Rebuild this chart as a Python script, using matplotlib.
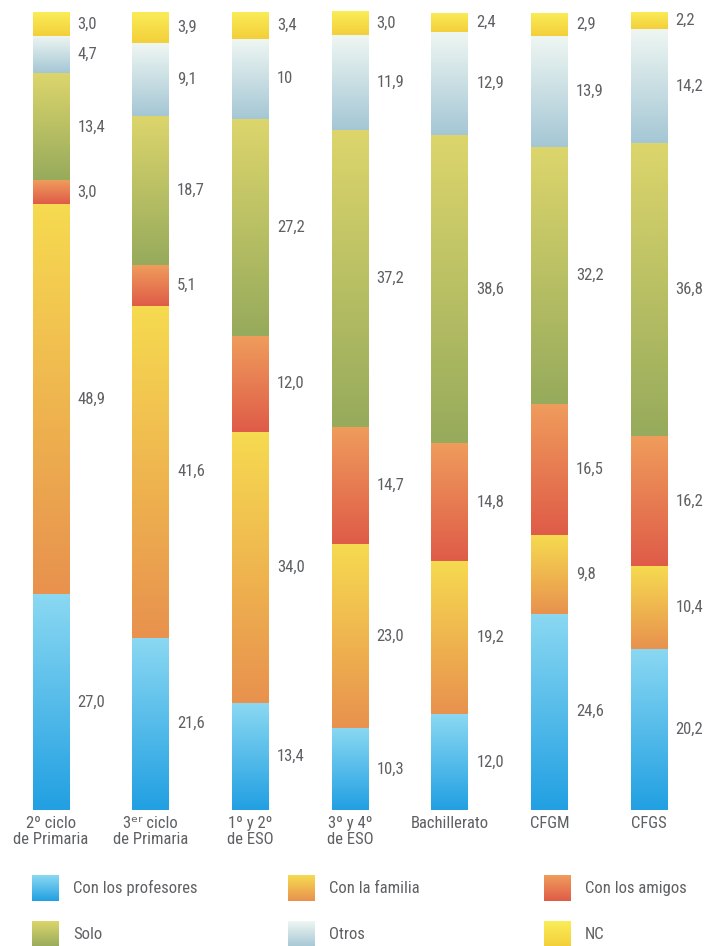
import numpy as np
import matplotlib.pyplot as plt
from matplotlib import font_manager
from matplotlib.colors import LinearSegmentedColormap
from matplotlib.patches import Rectangle

# niveles educativos (eje x)
levels = ['2º ciclo\nde Primaria', '3ᵉʳ ciclo\nde Primaria', '1º y 2º\nde ESO',
          '3º y 4º\nde ESO', 'Bachillerato', 'CFGM', 'CFGS']

# porcentajes por serie, de abajo arriba
profesores = [27.0, 21.6, 13.4, 10.3, 12.0, 24.6, 20.2]
familia = [48.9, 41.6, 34.0, 23.0, 19.2, 9.8, 10.4]
amigos = [3.0, 5.1, 12.0, 14.7, 14.8, 16.5, 16.2]
solo = [13.4, 18.7, 27.2, 37.2, 38.6, 32.2, 36.8]
otros = [4.7, 9.1, 10, 11.9, 12.9, 13.9, 14.2]
nc = [3.0, 3.9, 3.4, 3.0, 2.4, 2.9, 2.2]

series = ['Con los profesores', 'Con la familia', 'Con los amigos', 'Solo', 'Otros', 'NC']
values = [profesores, familia, amigos, solo, otros, nc]
# colores del degradado (arriba, abajo)
gradients = [('#8ad8f2', '#22a0e2'),
             ('#f6da50', '#e8924e'),
             ('#ef9c5c', '#df5c48'),
             ('#dcd56c', '#97ab5c'),
             ('#eef6f2', '#a5c7d5'),
             ('#faed58', '#f3cf3a')]

TEXT = '#5f6063'


def pick_font():
    names = {f.name for f in font_manager.fontManager.ttflist}
    for n in ['Liberation Sans Narrow', 'DejaVu Sans Condensed', 'Roboto Condensed']:
        if n in names:
            return n
    return 'DejaVu Sans'


FONT = pick_font()
plt.rcParams['font.family'] = [FONT, 'DejaVu Sans']


def fmt(v):
    if isinstance(v, int):
        return str(v)
    return f'{v:.1f}'.replace('.', ',')


def grad_fill(ax, patch, top, bottom, extent):
    cmap = LinearSegmentedColormap.from_list('g', [bottom, top])
    img = ax.imshow(np.linspace(0, 1, 64).reshape(-1, 1), cmap=cmap, origin='lower',
                    extent=extent, aspect='auto', interpolation='bicubic', zorder=2)
    img.set_clip_path(patch)


fig = plt.figure(figsize=(7.05, 9.46), dpi=100)
ax = fig.add_axes([0.0017, 0.1438, 0.990, 0.8436])

x = np.arange(len(levels))
width = 0.37
bottoms = np.zeros(len(levels))
for vals, (top, bot) in zip(values, gradients):
    vals_arr = np.array(vals, dtype=float)
    bars = ax.bar(x, vals_arr, width, bottom=bottoms, facecolor='none', edgecolor='none')
    for i, b in enumerate(bars):
        grad_fill(ax, b, top, bot, [x[i] - width / 2, x[i] + width / 2,
                                    bottoms[i], bottoms[i] + vals_arr[i]])
        ax.text(x[i] + width / 2 + 0.08, bottoms[i] + vals_arr[i] / 2, fmt(vals[i]),
                ha='left', va='center', fontsize=12, color=TEXT)
    bottoms += vals_arr

ax.set_xlim(-0.5, len(levels) - 0.5)
ax.set_ylim(0, 100)
ax.set_xticks(x)
ax.set_xticklabels(levels, fontsize=12, color=TEXT, linespacing=1.15)
ax.tick_params(axis='x', length=0, pad=4)
ax.set_yticks([])
for s in ax.spines.values():
    s.set_visible(False)

# leyenda en píxeles
lax = fig.add_axes([0, 0, 1, 1], zorder=-1)
lax.set_xlim(0, 705)
lax.set_ylim(946, 0)
lax.axis('off')
col_x = [32, 288, 544]
row_y = [888, 934]
for k, name in enumerate(series):
    cx = col_x[k % 3]
    cy = row_y[k // 3]
    rect = Rectangle((cx, cy - 13), 27, 26, facecolor='none', edgecolor='none')
    lax.add_patch(rect)
    top, bot = gradients[k]
    cmap = LinearSegmentedColormap.from_list('g', [bot, top])
    img = lax.imshow(np.linspace(0, 1, 64).reshape(-1, 1), cmap=cmap, origin='lower',
                     extent=[cx, cx + 27, cy + 13, cy - 13], aspect='auto')
    img.set_clip_path(rect)
    lax.text(cx + 41, cy, name, ha='left', va='center', fontsize=12, color=TEXT)

fig.savefig('out.png', dpi=100, facecolor='white')
